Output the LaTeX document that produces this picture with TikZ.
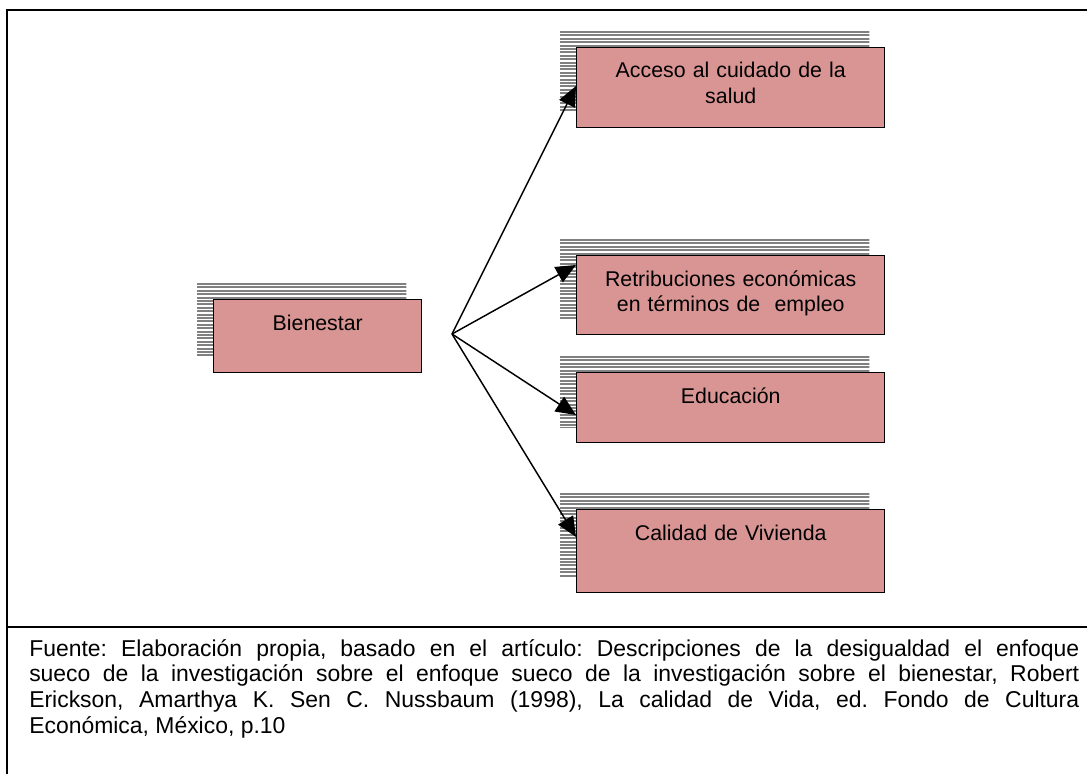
\documentclass[tikz,border=0pt]{standalone}
\usepackage{fontspec}
\setmainfont{Liberation Sans}
\usetikzlibrary{arrows.meta,calc,backgrounds}
\definecolor{boxpink}{RGB}{217,149,148}
\definecolor{hatchgray}{RGB}{128,128,128}
\frenchspacing
\begin{document}
\begin{tikzpicture}[x=0.75pt,y=-0.75pt]
\tikzstyle{every node}+=[inner sep=0pt]
\tikzstyle{box}=[draw=black, line width=1.1pt, fill=boxpink, anchor=north west]
\tikzstyle{boxtext}=[anchor=base, text width=220pt, align=center, font=\fontsize{16}{18.75}\selectfont]
\tikzstyle{hatch}=[draw=hatchgray, line width=1.5pt]
\tikzstyle{arr}=[black, line width=1.1pt, -{Triangle[length=15pt,width=13pt]}]
\useasboundingbox (0,0) rectangle (1087,774);
% frame
\draw [black, line width=1.5pt] (7,774) -- (7,10) -- (1087,10);
\draw [black, line width=1.5pt] (7,627) -- (1087,627);
% boxes
\node [box, minimum width=156pt, minimum height=54.75pt] (bien) at (213,299) {};
\node [box, minimum width=231pt, minimum height=60pt] (acc) at (576,47) {};
\node [box, minimum width=231pt, minimum height=59.25pt] (ret) at (576,255) {};
\node [box, minimum width=231pt, minimum height=52.5pt] (edu) at (576,372) {};
\node [box, minimum width=231pt, minimum height=62.25pt] (cal) at (576,509) {};
% shadows
\begin{scope}[on background layer]
\foreach \n in {bien,acc,ret,edu,cal}{
  \begin{scope}
    \clip ($(\n.north west)+(-16,-16)$) rectangle ($(\n.south east)+(-16,-16)$);
    \foreach \k in {0,...,30}
      \draw [hatch] ($(\n.north west)+(-16,{-15+\k*3.4})$) -- ++(330,0);
  \end{scope}
}
\end{scope}
% labels
\node [boxtext] (tbien) at ($(bien.north)+(0,31)$) {Bienestar};
\node [boxtext] (tacc) at ($(acc.north)+(0,31)$) {Acceso al cuidado de la\\salud};
\node [boxtext] (tret) at ($(ret.north)+(0,31)$) {Retribuciones económicas\\en términos de\ \ empleo};
\node [boxtext] (tedu) at ($(edu.north)+(0,31)$) {Educación};
\node [boxtext] (tcal) at ($(cal.north)+(0,31)$) {Calidad de Vivienda};
% arrows
\coordinate (fan) at (452,334);
\draw [arr] (fan) -- ($(acc.north west)+(0,39)$);
\draw [arr] (fan) -- ($(ret.north west)+(0,10)$);
\draw [arr] (fan) -- ($(edu.north west)+(0,43)$);
\draw [arr] (fan) -- ($(cal.north west)+(0,28)$);
% source
\node [anchor=base west, text width=787.5pt, align=justify, font=\fontsize{17.2}{19.3}\selectfont] (fuente) at (29,656)
{Fuente: Elaboración propia, basado en el artículo: Descripciones de la desigualdad el enfoque\linebreak
sueco de la investigación sobre el enfoque sueco de la investigación sobre el bienestar, Robert\linebreak
Erickson, Amarthya K. Sen C. Nussbaum (1998), La calidad de Vida, ed. Fondo de Cultura\linebreak
Económica, México, p.10};
\end{tikzpicture}
\end{document}
